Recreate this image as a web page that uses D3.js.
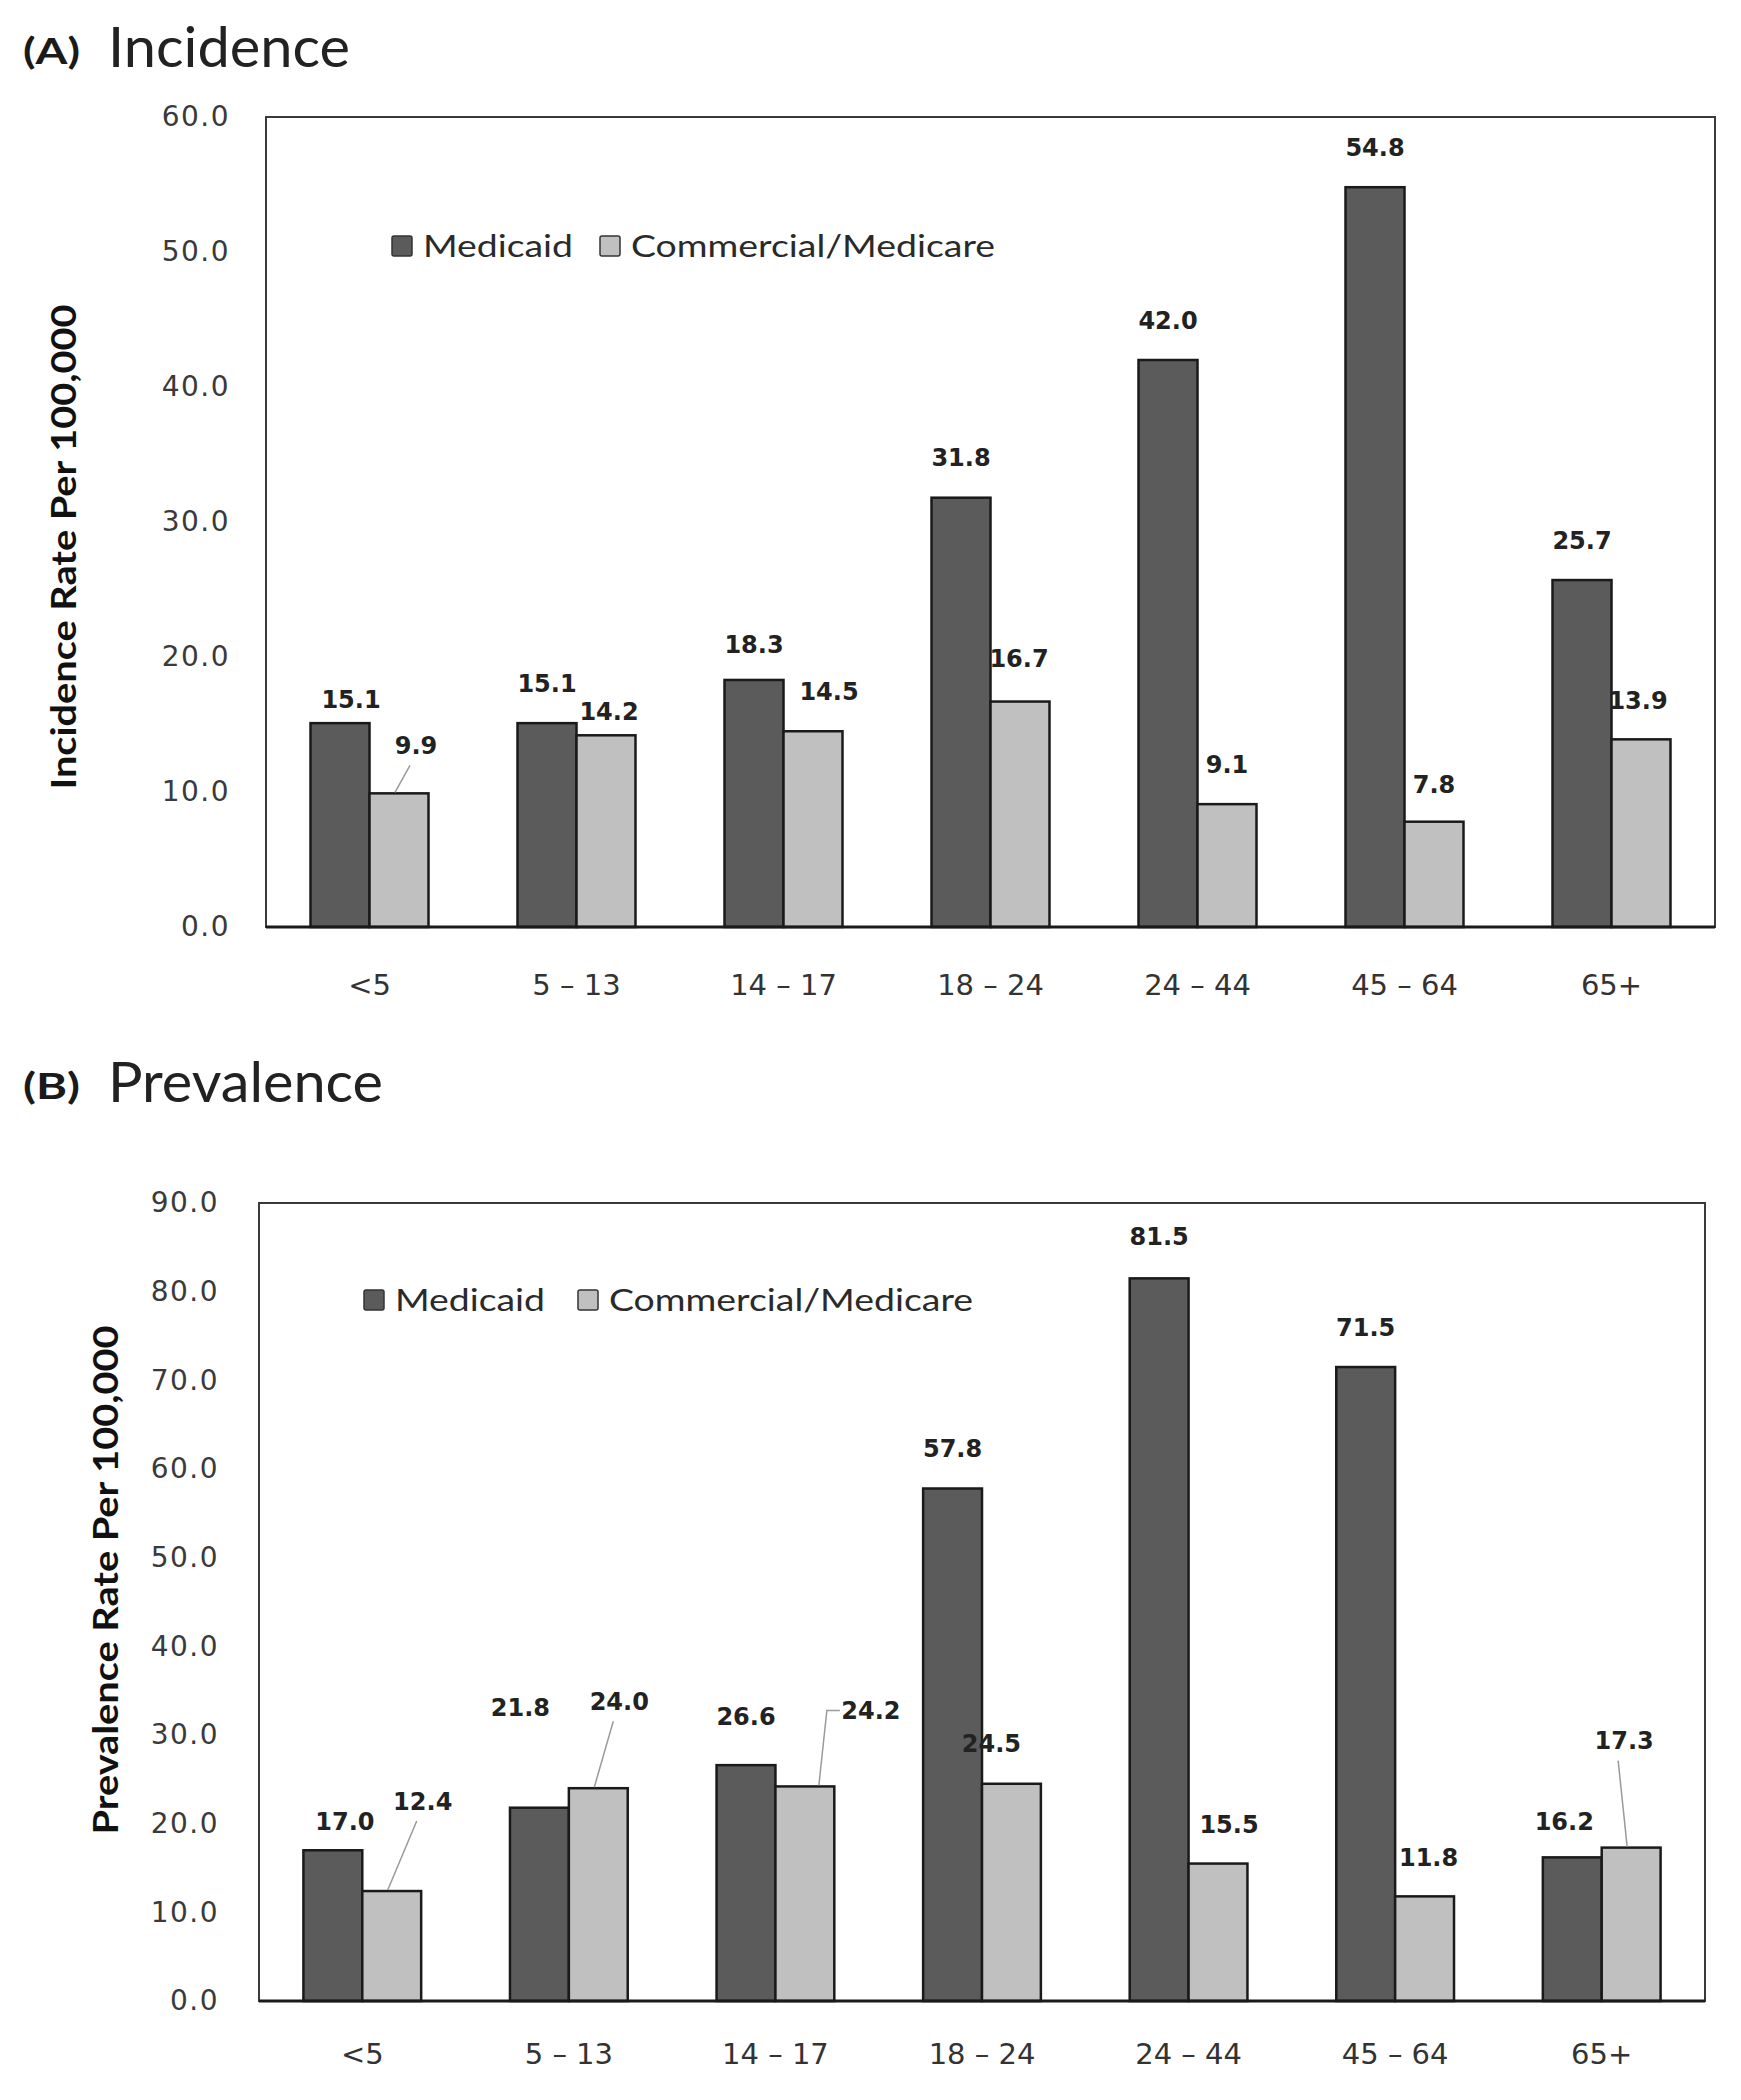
<!DOCTYPE html>
<html>
<head>
<meta charset="utf-8">
<script src="https://cdn.jsdelivr.net/npm/d3@7"></script>
<style>
  body { margin: 0; background: #fff; }
</style>
</head>
<body>
<div id="chart"></div>
<script>
// data
const ageGroups = ["<5", "5 – 13", "14 – 17", "18 – 24", "24 – 44", "45 – 64", "65+"];
const seriesNames = ["Medicaid", "Commercial/Medicare"];
const incidenceMedicaid = [15.1, 15.1, 18.3, 31.8, 42.0, 54.8, 25.7];
const incidenceCommercial = [9.9, 14.2, 14.5, 16.7, 9.1, 7.8, 13.9];
const prevalenceMedicaid = [17.0, 21.8, 26.6, 57.8, 81.5, 71.5, 16.2];
const prevalenceCommercial = [12.4, 24.0, 24.2, 24.5, 15.5, 11.8, 17.3];
const incidenceTicks = [0, 10, 20, 30, 40, 50, 60];
const prevalenceTicks = [0, 10, 20, 30, 40, 50, 60, 70, 80, 90];

// hand-moved data labels in the original: [dx, dy, leader]
const incidenceNudges = [
    [[11, 16], [0, 0], [0, 4], [0, 0], [0, 0], [0, 0], [0, 0]],
    [[17, -8, "line"], [3, 16], [16, 0], [-1, -3], [0, 0], [0, 3], [-3, 1]]
];
const prevalenceNudges = [
    [[12, 11], [-19, -60], [0, -9], [0, 0], [0, -2], [0, 0], [-8, 4]],
    [[31, -50, "line"], [21, -47, "line"], [66, -36, "elbow"], [-20, 0], [11, 1], [4, 1], [-7, -67, "line"]]
];

const colors = ["#5b5b5b", "#c0c0c0"];

const svg = d3.select("#chart")
    .append("svg")
    .attr("width", 1741)
    .attr("height", 2100)
    .style("background", "#fff");

function drawPanel(cfg) {
    const g = svg.append("g");

    // titulo del panel
    g.append("text")
        .attr("x", 23).attr("y", cfg.titleY - 3)
        .attr("textLength", 57).attr("lengthAdjust", "spacingAndGlyphs")
        .style("font-family", "Lato").style("font-weight", "bold").style("font-size", "37px")
        .style("fill", "#1a1a1a")
        .text(cfg.letter);
    g.append("text")
        .attr("x", 108).attr("y", cfg.titleY)
        .attr("textLength", cfg.titleLen).attr("lengthAdjust", "spacingAndGlyphs")
        .style("font-family", "Lato").style("font-size", "56px")
        .style("fill", "#222")
        .text(cfg.title);

    const x0 = d3.scaleBand()
        .domain(ageGroups)
        .range([cfg.left, cfg.right])
        .paddingInner(0.43)
        .paddingOuter(0.215);
    const x1 = d3.scaleBand()
        .domain(seriesNames)
        .range([0, x0.bandwidth()]);
    const y = d3.scaleLinear()
        .domain([0, d3.max(cfg.ticks)])
        .range([cfg.bottom, cfg.top]);

    // marco del area
    g.append("rect")
        .attr("x", cfg.left).attr("y", cfg.top)
        .attr("width", cfg.right - cfg.left).attr("height", cfg.bottom - cfg.top)
        .attr("fill", "#fff").attr("stroke", "#3a3a3a").attr("stroke-width", 2);

    // eje y
    const yAxis = g.append("g")
        .attr("transform", `translate(${cfg.left}, 0)`)
        .call(d3.axisLeft(y).tickValues(cfg.ticks).tickSize(0).tickPadding(cfg.tickPad).tickFormat(d3.format(".1f")));
    yAxis.select(".domain").remove();
    yAxis.selectAll("text")
        .style("font-family", "DejaVu Sans").style("font-size", "28px")
        .style("letter-spacing", "1.5px").style("fill", "#3a3a3a");

    // eje x
    const xAxis = g.append("g")
        .attr("transform", `translate(0, ${cfg.bottom})`)
        .call(d3.axisBottom(x0).tickSize(0).tickPadding(cfg.xPad));
    xAxis.select(".domain").remove();
    xAxis.selectAll("text")
        .style("font-family", "DejaVu Sans").style("font-size", "29px").style("fill", "#333");

    const rows = ageGroups.map((a, i) => ({ age: a, i }));

    const groups = g.selectAll(".grp")
        .data(rows)
        .enter().append("g")
        .attr("transform", d => `translate(${x0(d.age)}, 0)`);

    groups.selectAll("rect")
        .data(d => seriesNames.map((s, k) => ({ s, k, v: cfg.values[k][d.i], i: d.i })))
        .enter().append("rect")
        .attr("x", d => x1(d.s))
        .attr("y", d => y(d.v))
        .attr("width", x1.bandwidth())
        .attr("height", d => cfg.bottom - y(d.v))
        .attr("fill", d => colors[d.k])
        .attr("stroke", "#1a1a1a")
        .attr("stroke-width", 2.5);

    // linea base
    g.append("line")
        .attr("x1", cfg.left).attr("x2", cfg.right)
        .attr("y1", cfg.bottom).attr("y2", cfg.bottom)
        .attr("stroke", "#1a1a1a").attr("stroke-width", 3);

    // etiquetas de datos
    seriesNames.forEach((s, k) => {
        cfg.values[k].forEach((v, i) => {
            const cx = x0(ageGroups[i]) + x1(s) + x1.bandwidth() / 2;
            const top = y(v);
            const nd = cfg.nudges[k][i];
            const lx = cx + nd[0];
            const ly = top - 40 + nd[1];
            if (nd[2] === "line") {
                g.append("line")
                    .attr("x1", lx - 6).attr("y1", ly + 20)
                    .attr("x2", cx - 4).attr("y2", top - 1)
                    .attr("stroke", "#9a9a9a").attr("stroke-width", 1.5);
            } else if (nd[2] === "elbow") {
                g.append("polyline")
                    .attr("points", `${lx - 31},${ly} ${lx - 44},${ly} ${cx + 14},${top - 1}`)
                    .attr("fill", "none")
                    .attr("stroke", "#9a9a9a").attr("stroke-width", 1.5);
            }
            g.append("text")
                .attr("x", lx).attr("y", ly)
                .attr("dy", "0.36em")
                .attr("text-anchor", "middle")
                .style("font-family", "DejaVu Sans").style("font-weight", "bold")
                .style("font-size", "24px").style("fill", "#222")
                .text(d3.format(".1f")(v));
        });
    });

    // leyenda
    seriesNames.forEach((s, k) => {
        const lx = cfg.legendX + k * cfg.legendStep;
        g.append("rect")
            .attr("x", lx).attr("y", cfg.legendY)
            .attr("width", 20).attr("height", 20).attr("rx", 2)
            .attr("fill", colors[k]).attr("stroke", "#333").attr("stroke-width", 1.5);
        g.append("text")
            .attr("x", lx + 31).attr("y", cfg.legendY + 21)
            .attr("textLength", cfg.legendLens[k]).attr("lengthAdjust", "spacingAndGlyphs")
            .style("font-family", "Lato").style("font-size", "30px").style("fill", "#2a2a2a")
            .text(s);
    });

    // titulo del eje y
    g.append("text")
        .attr("transform", `translate(${cfg.yLabelX}, ${cfg.yLabelY}) rotate(-90)`)
        .attr("text-anchor", "middle")
        .attr("textLength", cfg.yLabelLen).attr("lengthAdjust", "spacingAndGlyphs")
        .style("font-family", "Lato").style("font-weight", "bold").style("font-size", "34px")
        .style("fill", "#111")
        .text(cfg.yLabel);
}

drawPanel({
    letter: "(A)", title: "Incidence", titleY: 67, titleLen: 242,
    left: 266, right: 1715, top: 117, bottom: 927,
    ticks: incidenceTicks, tickPad: 36, xPad: 47,
    values: [incidenceMedicaid, incidenceCommercial],
    nudges: incidenceNudges,
    legendX: 392, legendY: 236, legendStep: 208, legendLens: [150, 364],
    yLabel: "Incidence Rate Per 100,000", yLabelX: 76, yLabelY: 547, yLabelLen: 485
});

drawPanel({
    letter: "(B)", title: "Prevalence", titleY: 1102, titleLen: 275,
    left: 259, right: 1705, top: 1203, bottom: 2001,
    ticks: prevalenceTicks, tickPad: 40, xPad: 42,
    values: [prevalenceMedicaid, prevalenceCommercial],
    nudges: prevalenceNudges,
    legendX: 364, legendY: 1290, legendStep: 214, legendLens: [150, 364],
    yLabel: "Prevalence Rate Per 100,000", yLabelX: 118, yLabelY: 1580, yLabelLen: 509
});
</script>
</body>
</html>
